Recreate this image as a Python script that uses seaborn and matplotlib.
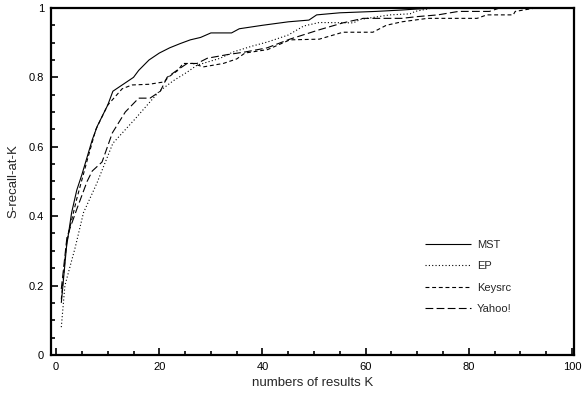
import matplotlib
matplotlib.use('Agg')
import matplotlib.pyplot as plt
import seaborn as sns
import pandas as pd
from matplotlib.ticker import MultipleLocator

# Chart style
sns.set_style('ticks')
plt.rcParams['font.family'] = ['Liberation Sans', 'DejaVu Sans']

# Data (K, S-recall-at-K)
k_mst = [1, 2, 3, 4, 5, 6, 7, 8, 9, 10, 11, 13, 15, 16, 18, 20, 22, 24, 26, 28,
         30, 34, 35.5, 40, 45, 49, 50.5, 55, 62, 67, 70, 75, 100]
s_mst = [0.15, 0.31, 0.41, 0.475, 0.52, 0.57, 0.62, 0.66, 0.69, 0.72, 0.76, 0.78,
         0.80, 0.82, 0.85, 0.87, 0.885, 0.897, 0.908, 0.915, 0.928, 0.928, 0.94,
         0.95, 0.96, 0.965, 0.98, 0.986, 0.99, 0.994, 0.997, 1.0, 1.0]

k_ep = [1, 1.7, 3.7, 5.3, 7.9, 11, 15.3, 20, 22.7, 25.4, 27.3, 31.8, 34.3, 38, 41,
        45, 48, 51, 57.6, 59, 64.7, 68.6, 69.6, 73, 100]
s_ep = [0.08, 0.2, 0.31, 0.41, 0.495, 0.61, 0.68, 0.76, 0.79, 0.815, 0.835, 0.855,
        0.873, 0.89, 0.902, 0.922, 0.948, 0.958, 0.957, 0.967, 0.98, 0.983, 0.99,
        1.0, 1.0]

k_keysrc = [1, 2, 2.7, 4, 6, 7.7, 10, 12.8, 14.7, 18, 21, 21.7, 23.6, 24.6, 26.5,
            28.5, 32.4, 35, 36.6, 41, 45.3, 51, 55.6, 61.4, 64, 67, 72, 81.6, 83.5,
            88.6, 89, 93]
s_keysrc = [0.16, 0.32, 0.37, 0.45, 0.56, 0.65, 0.72, 0.767, 0.778, 0.78, 0.787,
            0.80, 0.82, 0.84, 0.84, 0.83, 0.84, 0.853, 0.87, 0.88, 0.908, 0.91,
            0.93, 0.93, 0.95, 0.96, 0.97, 0.97, 0.98, 0.98, 0.99, 1.0]

k_yahoo = [1, 2.1, 4, 6, 7, 8.9, 10.9, 13.4, 16, 18.2, 20.2, 21.5, 23.4, 25.4, 27.3,
           29.3, 33, 36.6, 40.9, 45.3, 51, 55.6, 59.5, 62, 67, 70, 74, 78, 84, 86]
s_yahoo = [0.19, 0.34, 0.42, 0.5, 0.53, 0.556, 0.64, 0.70, 0.74, 0.74, 0.76, 0.80,
           0.82, 0.84, 0.84, 0.855, 0.865, 0.873, 0.885, 0.91, 0.937, 0.957, 0.97,
           0.97, 0.97, 0.975, 0.98, 0.99, 0.99, 1.0]

series = [
    ('MST', k_mst, s_mst, (0, ())),
    ('EP', k_ep, s_ep, (0, (1, 2))),
    ('Keysrc', k_keysrc, s_keysrc, (0, (3.5, 2.5))),
    ('Yahoo!', k_yahoo, s_yahoo, (0, (7, 3))),
]

fig = plt.figure(figsize=(5.84, 3.97), dpi=100)
ax = fig.add_axes([0.0873, 0.106, 0.8957, 0.874])

for name, k, s, ls in series:
    df = pd.DataFrame({'K': k, 'S': s})
    sns.lineplot(data=df, x='K', y='S', ax=ax, color='black', linewidth=0.8,
                 linestyle=ls, label=name, estimator=None)

ax.set_xlim(-1, 100.4)
ax.set_ylim(0, 1)
ax.xaxis.set_major_locator(MultipleLocator(20))
ax.xaxis.set_minor_locator(MultipleLocator(5))
ax.yaxis.set_major_locator(MultipleLocator(0.2))
ax.yaxis.set_minor_locator(MultipleLocator(0.05))
ax.set_yticks([0, 0.2, 0.4, 0.6, 0.8, 1.0])
ax.set_yticklabels(['0', '0.2', '0.4', '0.6', '0.8', '1'])

ax.tick_params(which='both', direction='in', top=False, right=False,
               labelsize=8, width=1.2, colors='black')
ax.tick_params(which='major', length=5, pad=5)
ax.tick_params(which='minor', length=3)
for sp in ax.spines.values():
    sp.set_linewidth(1.6)
    sp.set_color('black')

ax.set_xlabel('numbers of results K', fontsize=9.5, labelpad=4)
ax.set_ylabel('S-recall-at-K', fontsize=9.5, labelpad=7)

leg = ax.legend(loc='upper left', bbox_to_anchor=(0.695, 0.36), frameon=False,
                fontsize=8, handlelength=4.2, labelspacing=1.02, handletextpad=0.5)

fig.savefig('out.png', dpi=100)
